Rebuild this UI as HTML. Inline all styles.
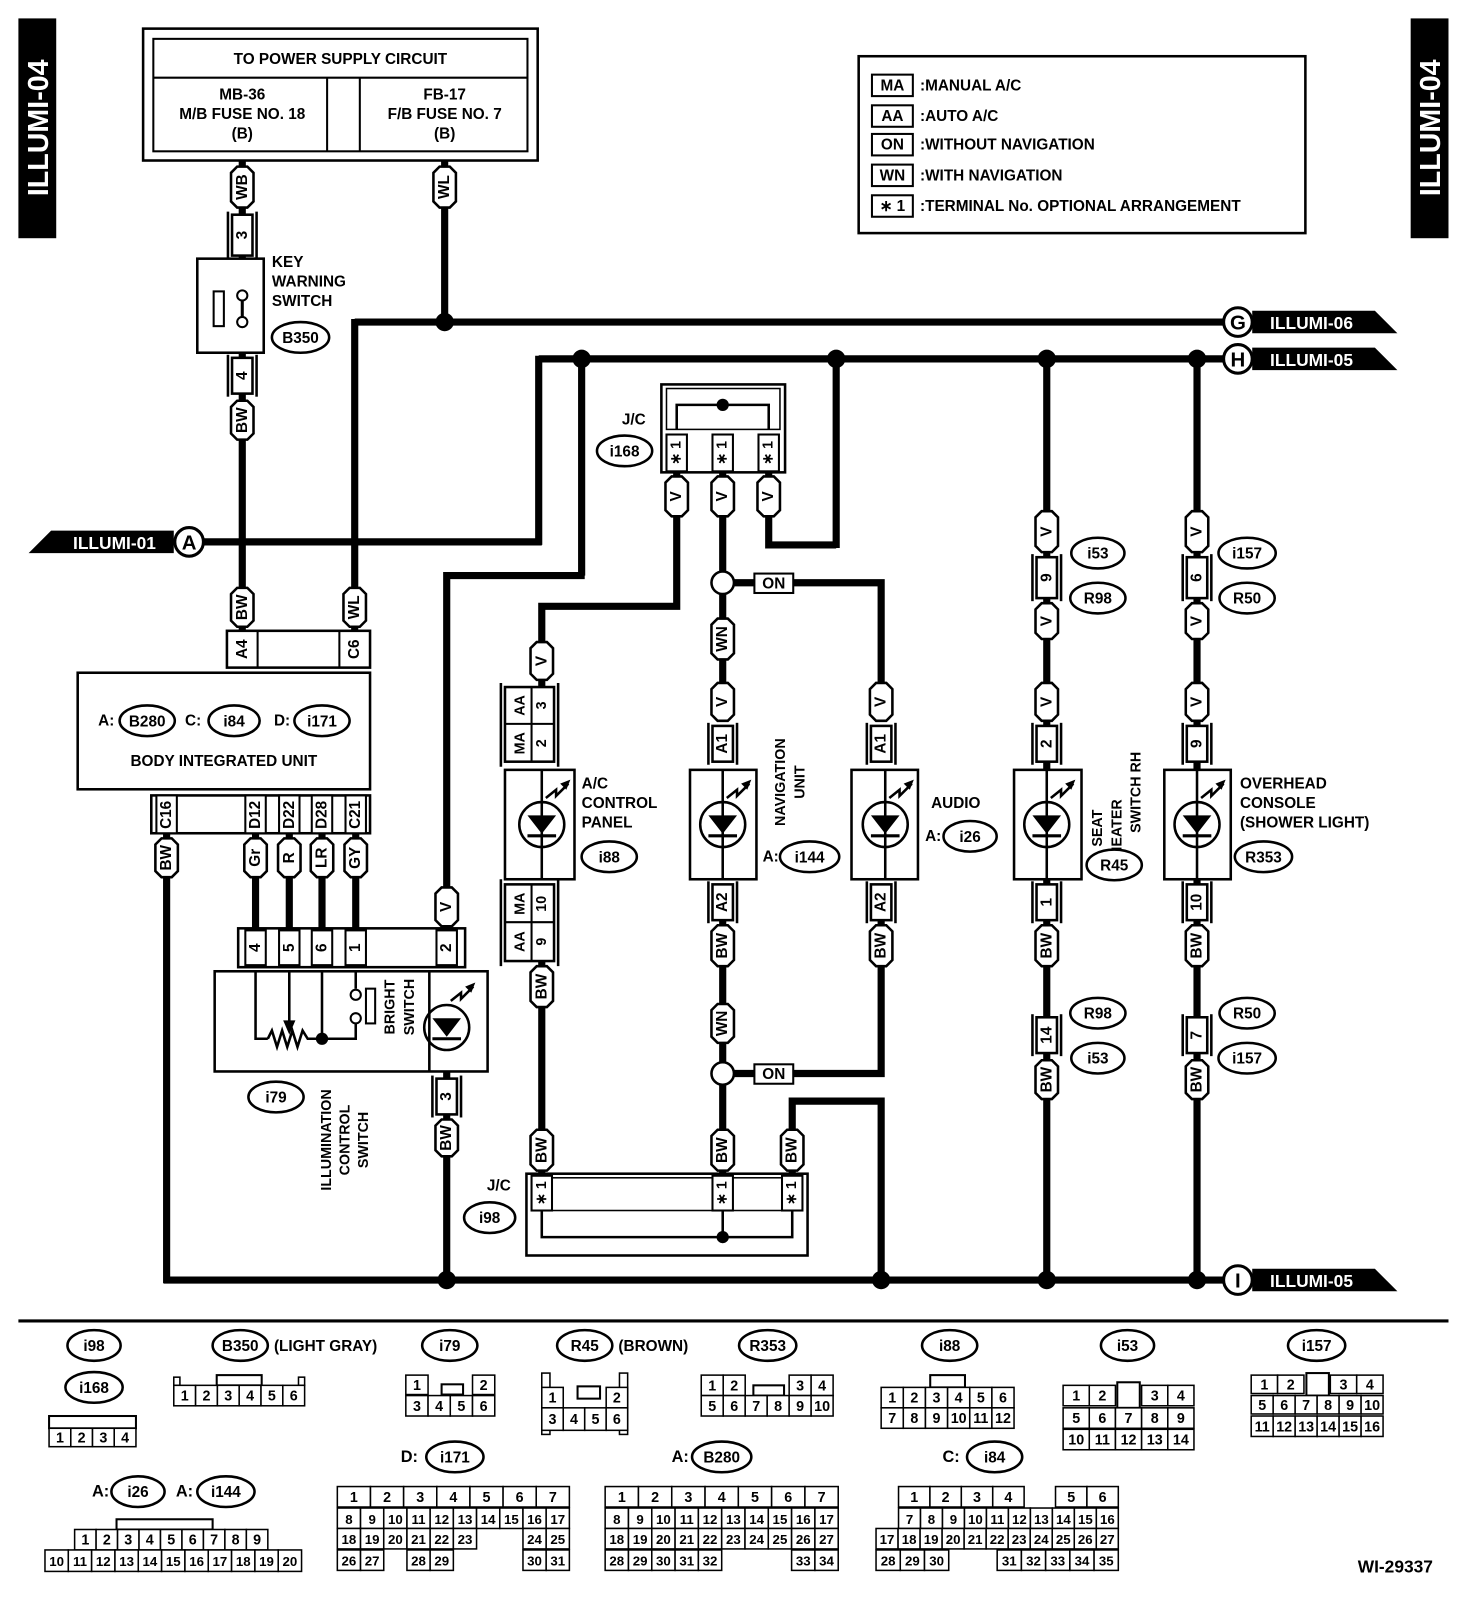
<!DOCTYPE html>
<html><head><meta charset="utf-8"><style>
html,body{margin:0;padding:0;background:#fff}
svg{display:block;font-family:"Liberation Sans",Arial,sans-serif;font-weight:bold}
</style></head><body>
<svg id="s" width="1472" height="1598" viewBox="0 0 1440 1563" preserveAspectRatio="none" xmlns="http://www.w3.org/2000/svg"></svg>
<script>
const S=document.getElementById('s');let h='';
function L(x1,y1,x2,y2,w){h+=`<line x1="${x1}" y1="${y1}" x2="${x2}" y2="${y2}" stroke="#000" stroke-width="${w||7}"/>`;}
function P(pts,w){h+=`<polyline points="${pts}" fill="none" stroke="#000" stroke-width="${w||7}" stroke-linejoin="miter"/>`;}
function R(x,y,w,hh,sw,fill){h+=`<rect x="${x}" y="${y}" width="${w}" height="${hh}" fill="${fill||'#fff'}" stroke="#000" stroke-width="${sw||2}"/>`;}
function T(x,y,s,sz,a,rot,col){sz=sz||15;a=a||'middle';col=col||'#000';
 if(rot)h+=`<text transform="translate(${x},${y}) rotate(-90)" text-anchor="${a}" dominant-baseline="central" font-size="${sz}" fill="${col}">${s}</text>`;
 else h+=`<text x="${x}" y="${y}" text-anchor="${a}" dominant-baseline="central" font-size="${sz}" fill="${col}">${s}</text>`;}
function D(x,y,r){h+=`<circle cx="${x}" cy="${y}" r="${r||9}" fill="#000"/>`;}
function OC(x,y){h+=`<circle cx="${x}" cy="${y}" r="11" fill="#fff" stroke="#000" stroke-width="2.5"/>`;}
function W(x,y1,y2,s){const a=x-11,b=x+11,c=6;h+=`<polygon points="${a+c},${y1} ${b-c},${y1} ${b},${y1+c} ${b},${y2-c} ${b-c},${y2} ${a+c},${y2} ${a},${y2-c} ${a},${y1+c}" fill="#fff" stroke="#000" stroke-width="2.5"/>`;T(x,(y1+y2)/2,s,15,'middle',1);}
function PN(x,y1,y2,s){R(x-10,y1,20,y2-y1,2.5);L(x-14,y1-3,x-14,y2+3,2.5);L(x+14,y1-3,x+14,y2+3,2.5);T(x,(y1+y2)/2,s,15,'middle',1);}
function OV(x,y,s,w){w=w||58;h+=`<ellipse cx="${x}" cy="${y}" rx="${w/2}" ry="15" fill="#fff" stroke="#000" stroke-width="2.5"/>`;T(x,y+1,s,15);}
function LED(x,y){h+=`<circle cx="${x}" cy="${y}" r="22" fill="none" stroke="#000" stroke-width="2.5"/><polygon points="${x-14},${y-9} ${x+14},${y-9} ${x},${y+9}" fill="#000"/>`;L(x-14,y+11,x+14,y+11,3);
 h+=`<polyline points="${x+4},${y-26} ${x+14},${y-34} ${x+14},${y-28} ${x+26},${y-40}" fill="none" stroke="#000" stroke-width="2.5"/><polygon points="${x+28},${y-44} ${x+18},${y-40} ${x+24},${y-34}" fill="#000"/>`;}
function COMP(x1,y1,x2,y2,cx){R(x1,y1,x2-x1,y2-y1,2.5);L(cx,y1,cx,y2,2.5);LED(cx,(y1+y2)/2);}
function TAGR(y,letter,s){h+=`<polygon points="1225,${y-11} 1345,${y-11} 1367,${y+11} 1225,${y+11}" fill="#000"/>`;h+=`<circle cx="1211" cy="${y}" r="14" fill="#fff" stroke="#000" stroke-width="3"/>`;T(1211,y+1,letter,20);T(1283,y+1,s,17,'middle',0,'#fff');}
function ROW(x0,x1,y,hh,labels,sz){const n=labels.length,w=(x1-x0)/n;labels.forEach((l,i)=>{if(l===null)return;R(x0+i*w,y,w,hh,1.5);T(x0+i*w+w/2,y+hh/2+1,l,sz||14);});}

h+=`<rect x="18" y="18" width="37" height="215" fill="#000"/><rect x="1380" y="18" width="37" height="215" fill="#000"/>`;
T(38,125,'ILLUMI-04',28,'middle',1,'#fff');T(1400,125,'ILLUMI-04',28,'middle',1,'#fff');
R(140,28,386,129,2.5);R(150,38,366,110,2);L(150,76,516,76,2);L(320,76,320,148,2);L(352,76,352,148,2);
T(333,58,'TO POWER SUPPLY CIRCUIT',15);
T(237,93,'MB-36',15);T(237,112,'M/B FUSE NO. 18',15);T(237,131,'(B)',15);
T(435,93,'FB-17',15);T(435,112,'F/B FUSE NO. 7',15);T(435,131,'(B)',15);
R(840,55,437,173,2.5);
[['MA','MANUAL A/C',83],['AA','AUTO A/C',113],['ON','WITHOUT NAVIGATION',141],['WN','WITH NAVIGATION',171],['\u2217 1','TERMINAL No. OPTIONAL ARRANGEMENT',201]].forEach(r=>{R(853,r[2]-10,40,21,2);T(873,r[2]+1,r[0],15);T(900,r[2]+1,':'+r[1],15,'start');});

L(237,157,237,620);L(435,157,435,318);
L(347,315,1200,315);L(347,312,347,620);
L(527,351,1200,351);L(527,348,527,533);L(195,530,530,530);
L(569,351,569,563);P('572,563 437,563 437,912');
L(818,351,818,536);P('818,533 752,533 752,462');
P('662,462 662,593 530,593 530,672');
L(707,396,707,672);P('718,570 862,570 862,672');
L(1024,351,1024,1255);L(1171,351,1171,1255);
L(163,815,163,1255);L(160,1252,1200,1252);
L(437,1048,437,1255);
L(530,940,530,1150);L(707,865,707,1150);P('718,1050 862,1050 862,865');
P('775,1150 775,1077 862,1077 862,1255');
[250,283,315,348].forEach(x=>L(x,815,x,912));
TAGR(315,'G','ILLUMI-06');TAGR(351,'H','ILLUMI-05');TAGR(1252,'I','ILLUMI-05');
h+=`<polygon points="28,541 50,519 170,519 170,541" fill="#000"/><circle cx="185" cy="530" r="14" fill="#fff" stroke="#000" stroke-width="3"/>`;T(185,531,'A',20);T(112,531,'ILLUMI-01',17,'middle',0,'#fff');
[[435,315],[569,351],[818,351],[1024,351],[1171,351],[437,1252],[862,1252],[1024,1252],[1171,1252]].forEach(p=>D(p[0],p[1]));
OC(707,570);OC(707,1050);
R(738,561,38,19,2);T(757,571,'ON',15);R(738,1041,38,19,2);T(757,1051,'ON',15);

W(237,163,203,'WB');W(435,163,203,'WL');
PN(237,210,250,'3');R(193,253,65,92,2.5);PN(237,350,385,'4');W(237,392,430,'BW');
R(209,285,10,34,2);h+=`<circle cx="237" cy="289" r="5" fill="#fff" stroke="#000" stroke-width="2"/><circle cx="237" cy="315" r="5" fill="#fff" stroke="#000" stroke-width="2"/>`;L(237,294,237,310,3);
T(266,257,'KEY',15,'start');T(266,276,'WARNING',15,'start');T(266,295,'SWITCH',15,'start');OV(294,330,'B350',56);

W(237,575,613,'BW');W(347,575,613,'WL');
R(222,617,140,36,2.5);L(252,617,252,653,2);L(332,617,332,653,2);T(237,635,'A4',15,'middle',1);T(347,635,'C6',15,'middle',1);
R(76,658,286,114,2.5);
T(96,705,'A:',15,'start');OV(144,705,'B280',54);T(181,705,'C:',15,'start');OV(229,705,'i84',50);T(268,705,'D:',15,'start');OV(315,705,'i171',54);
T(219,745,'BODY INTEGRATED UNIT',15);
R(148,778,214,37,2.5);[[163,'C16'],[250,'D12'],[283,'D22'],[315,'D28'],[348,'C21']].forEach(p=>{R(p[0]-10,778,20,37,2);T(p[0],797,p[1],15,'middle',1);});
W(163,820,858,'BW');W(250,820,858,'Gr');W(283,820,858,'R');W(315,820,858,'LR');W(348,820,858,'GY');
W(437,868,906,'V');
R(233,908,222,38,2.5);[[250,'4'],[283,'5'],[315,'6'],[348,'1'],[437,'2']].forEach(p=>{R(p[0]-10,910,20,34,2);T(p[0],927,p[1],15,'middle',1);});
R(210,950,267,98,2.5);L(420,950,420,1048,2.5);LED(437,1005);
P('250,950 250,1016 262,1016',2.5);h+=`<polyline points="262,1016 266,1008 271,1024 276,1008 281,1024 286,1008 291,1024 296,1008 301,1016 315,1016" fill="none" stroke="#000" stroke-width="2.5"/>`;
L(283,950,283,1006,2.5);h+=`<polygon points="277,998 289,998 283,1012" fill="#000"/>`;
L(315,950,315,1016,2.5);D(315,1016,6);P('315,1016 348,1016 348,1001',2.5);L(348,950,348,967,2.5);
h+=`<circle cx="348" cy="973" r="5" fill="#fff" stroke="#000" stroke-width="2"/><circle cx="348" cy="996" r="5" fill="#fff" stroke="#000" stroke-width="2"/>`;R(358,967,9,34,2);
T(382,985,'BRIGHT',14,'middle',1);T(401,985,'SWITCH',14,'middle',1);
PN(437,1055,1090,'3');W(437,1095,1131,'BW');
OV(270,1073,'i79',54);T(320,1115,'ILLUMINATION',14,'middle',1);T(338,1115,'CONTROL',14,'middle',1);T(356,1115,'SWITCH',14,'middle',1);

R(647,376,121,86,2.5);R(652,380,111,40,1.5);P('662,420 662,396 752,396 752,420',2.5);D(707,396,6);
[662,707,752].forEach(x=>{R(x-10,425,20,36,2);T(x,443,'\u2217 1',14,'middle',1);W(x,466,505,'V');});
T(620,411,'J/C',15);OV(611,441,'i168',54);
W(530,628,665,'V');
R(494,672,48,73,2.5);L(520,672,520,745,2);L(494,708,542,708,2);T(509,690,'AA',14,'middle',1);T(530,690,'3',14,'middle',1);T(509,727,'MA',14,'middle',1);T(530,727,'2',14,'middle',1);
L(490,668,490,750,2.5);L(546,668,546,750,2.5);
COMP(494,753,562,860,530);
R(494,865,48,75,2.5);L(520,865,520,940,2);L(494,902,542,902,2);T(509,884,'MA',14,'middle',1);T(530,884,'10',14,'middle',1);T(509,921,'AA',14,'middle',1);T(530,921,'9',14,'middle',1);
L(490,860,490,945,2.5);L(546,860,546,945,2.5);
W(530,945,985,'BW');
T(569,767,'A/C',15,'start');T(569,786,'CONTROL',15,'start');T(569,805,'PANEL',15,'start');OV(596,838,'i88',54);
W(707,605,645,'WN');W(707,668,705,'V');PN(707,710,745,'A1');COMP(675,753,740,860,707);PN(707,865,900,'A2');W(707,905,945,'BW');W(707,982,1020,'WN');
T(764,765,'NAVIGATION',14,'middle',1);T(783,765,'UNIT',14,'middle',1);T(746,838,'A:',15,'start');OV(792,838,'i144',58);
W(862,668,705,'V');PN(862,710,745,'A1');COMP(833,753,898,860,866);PN(862,865,900,'A2');W(862,905,945,'BW');
T(935,786,'AUDIO',15);T(905,818,'A:',15,'start');OV(949,818,'i26',52);
W(1024,500,540,'V');PN(1024,545,585,'9');W(1024,590,625,'V');OV(1074,541,'i53',52);OV(1074,585,'R98',54);
W(1024,668,705,'V');PN(1024,710,745,'2');COMP(992,753,1058,860,1024);PN(1024,865,900,'1');W(1024,905,945,'BW');
PN(1024,995,1030,'14');W(1024,1037,1075,'BW');OV(1074,991,'R98',54);OV(1074,1035,'i53',52);
T(1074,810,'SEAT',14,'middle',1);T(1093,810,'HEATER',14,'middle',1);T(1112,775,'SWITCH RH',14,'middle',1);OV(1090,846,'R45',54);
W(1171,500,540,'V');PN(1171,545,585,'6');W(1171,590,625,'V');OV(1220,541,'i157',56);OV(1220,585,'R50',54);
W(1171,668,705,'V');PN(1171,710,745,'9');COMP(1139,753,1204,860,1171);PN(1171,865,900,'10');W(1171,905,945,'BW');
PN(1171,995,1030,'7');W(1171,1037,1075,'BW');OV(1220,991,'R50',54);OV(1220,1035,'i157',56);
T(1213,767,'OVERHEAD',15,'start');T(1213,786,'CONSOLE',15,'start');T(1213,805,'(SHOWER LIGHT)',15,'start');OV(1236,838,'R353',56);
W(530,1105,1145,'BW');W(707,1105,1145,'BW');W(775,1105,1145,'BW');
R(515,1148,275,80,2.5);R(520,1152,265,32,1.5);P('530,1184 530,1210 775,1210 775,1184',2.5);L(707,1184,707,1210,2.5);D(707,1210,6);
[530,707,775].forEach(x=>{R(x-10,1150,20,34,2);T(x,1167,'\u2217 1',14,'middle',1);});
T(488,1160,'J/C',15);OV(479,1191,'i98',50);

L(18,1292,1417,1292,3);
OV(92,1316,'i98',52);OV(92,1357,'i168',56);R(48,1385,85,12,2);ROW(48,133,1397,18,['1','2','3','4']);
OV(235,1316,'B350',54);T(268,1317,'(LIGHT GRAY)',15,'start');R(212,1345,44,10,2);R(170,1347,6,8,1.5);R(292,1347,6,8,1.5);ROW(170,298,1355,20,['1','2','3','4','5','6']);
OV(440,1316,'i79',54);R(432,1354,21,10,2);ROW(397,484,1345,19,['1',null,null,'2']);ROW(397,484,1365,20,['3','4','5','6']);
OV(572,1316,'R45',54);T(605,1317,'(BROWN)',15,'start');R(530,1343,8,60,1.5);R(606,1343,8,60,1.5);R(565,1356,22,12,2);ROW(530,614,1357,20,['1',null,null,'2']);ROW(530,614,1377,22,['3','4','5','6']);
OV(751,1316,'R353',56);R(737,1355,30,10,2);ROW(686,815,1345,20,['1','2',null,null,'3','4']);ROW(686,815,1365,20,['5','6','7','8','9','10']);
OV(929,1316,'i88',54);R(910,1345,34,12,2);ROW(862,992,1357,20,['1','2','3','4','5','6']);ROW(862,992,1377,20,['7','8','9','10','11','12']);
OV(1103,1316,'i53',52);R(1093,1352,22,25,2);ROW(1040,1168,1355,20,['1','2',null,'3','4']);ROW(1040,1168,1377,20,['5','6','7','8','9']);ROW(1040,1168,1398,20,['10','11','12','13','14']);
OV(1288,1316,'i157',56);R(1278,1343,22,22,2);ROW(1224,1353,1345,18,['1','2',null,'3','4']);ROW(1224,1353,1365,18,['5','6','7','8','9','10']);ROW(1224,1353,1385,20,['11','12','13','14','15','16']);
T(90,1459,'A:',16,'start');OV(135,1459,'i26',52);T(172,1459,'A:',16,'start');OV(221,1459,'i144',56);R(114,1486,94,10,2);
ROW(73,262,1496,20,['1','2','3','4','5','6','7','8','9']);ROW(44,295,1516,21,['10','11','12','13','14','15','16','17','18','19','20'],13);
T(392,1425,'D:',16,'start');OV(445,1425,'i171',56);
ROW(330,557,1454,20,['1','2','3','4','5','6','7']);ROW(330,557,1475,20,['8','9','10','11','12','13','14','15','16','17'],13);ROW(330,557,1495,20,['18','19','20','21','22','23',null,null,'24','25'],13);ROW(330,557,1516,20,['26','27',null,'28','29',null,null,null,'30','31'],13);
T(657,1425,'A:',16,'start');OV(706,1425,'B280',58);
ROW(592,820,1454,20,['1','2','3','4','5','6','7']);ROW(592,820,1475,20,['8','9','10','11','12','13','14','15','16','17'],13);ROW(592,820,1495,20,['18','19','20','21','22','23','24','25','26','27'],13);ROW(592,820,1516,20,['28','29','30','31','32',null,null,null,'33','34'],13);
T(922,1425,'C:',16,'start');OV(973,1425,'i84',54);
ROW(879,1094,1454,20,['1','2','3','4',null,'5','6']);ROW(879,1094,1475,20,['7','8','9','10','11','12','13','14','15','16'],13);ROW(857,1094,1495,20,['17','18','19','20','21','22','23','24','25','26','27'],13);ROW(857,1094,1516,20,['28','29','30',null,null,'31','32','33','34','35'],13);
T(1365,1532,'WI-29337',17);
S.innerHTML=h;
</script>
</body></html>
